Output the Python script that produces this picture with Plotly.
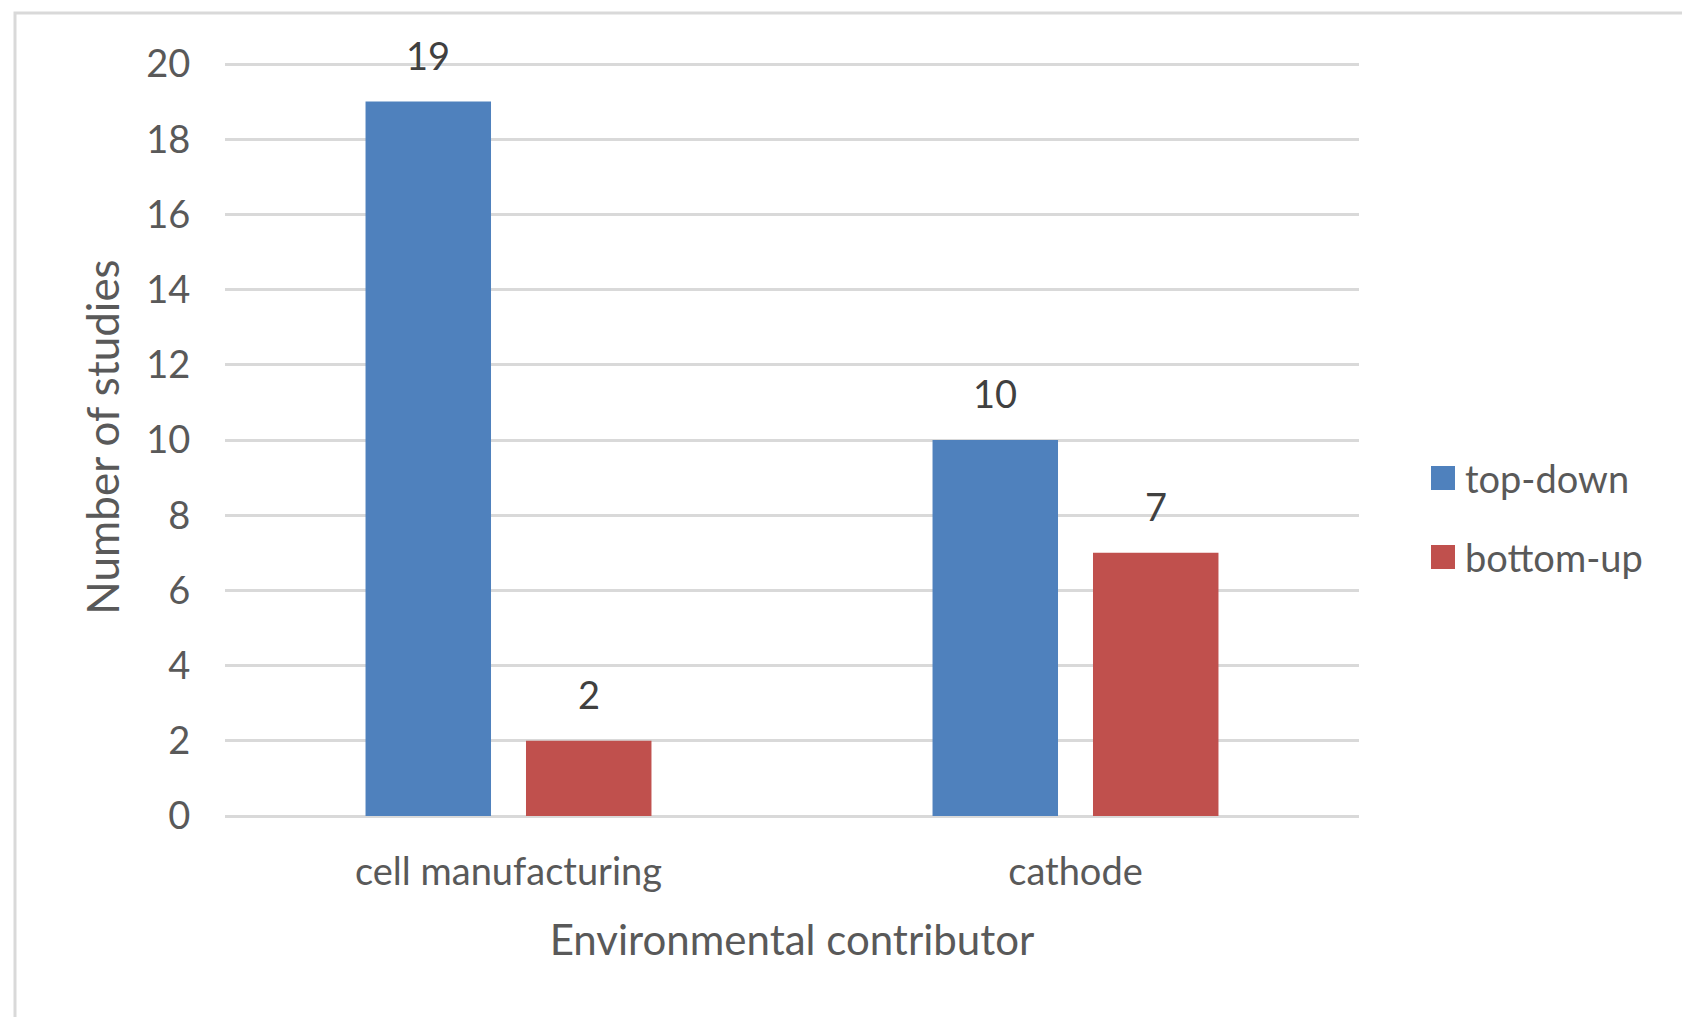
import plotly.graph_objects as go

# Data
categories = ["cell manufacturing", "cathode"]
series_names = ["top-down", "bottom-up"]
top_down = [19, 10]
bottom_up = [2, 7]
y_ticks = [0, 2, 4, 6, 8, 10, 12, 14, 16, 18, 20]

colors = ["#4F81BD", "#C0504D"]
series_values = [top_down, bottom_up]

W, H = 1682, 1017
M_L, M_R, M_T, M_B = 225, 323, 58, 201
BARGAP, GROUPGAP = 0.434, 0.218
FONT = "Lato"
TICK_COLOR = "#595959"
Y_MAX = 20.16  # a little headroom so the top gridline is drawn

fig = go.Figure()
for name, vals, col in zip(series_names, series_values, colors):
    fig.add_trace(go.Bar(
        x=categories, y=vals, name=name,
        marker=dict(color=col, line=dict(width=0)),
        showlegend=False,
    ))

# Value labels above each bar, offset to the bar's position within its group
plot_w = W - M_L - M_R
plot_h = H - M_T - M_B
cat_w = plot_w / len(categories)
slot = cat_w * (1 - BARGAP) / len(series_names)
for i, vals in enumerate(series_values):
    shift = (i - (len(series_names) - 1) / 2) * slot
    for cat, v in zip(categories, vals):
        fig.add_annotation(
            x=cat, y=v, xref="x", yref="y", text=str(v), showarrow=False,
            xshift=shift, yanchor="bottom", yshift=22,
            font=dict(family=FONT, size=38, color="#404040"),
        )

# Legend drawn as colored squares with labels to the right of the plot
sq = 24
leg_x0 = (1431 - M_L) / plot_w
leg_rows_px = [478, 557]
for name, col, ypx in zip(series_names, colors, leg_rows_px):
    yc = (H - M_B - ypx) / plot_h
    fig.add_shape(
        type="rect", xref="paper", yref="paper",
        x0=leg_x0, x1=leg_x0 + sq / plot_w,
        y0=yc - sq / 2 / plot_h, y1=yc + sq / 2 / plot_h,
        fillcolor=col, line=dict(width=0),
    )
    fig.add_annotation(
        xref="paper", yref="paper", x=leg_x0 + (sq + 8) / plot_w, y=yc,
        text=name, showarrow=False, xanchor="left", yanchor="middle",
        font=dict(family=FONT, size=38, color=TICK_COLOR),
    )

# Light outer frame
fig.add_shape(
    type="rect", xref="paper", yref="paper",
    x0=(15 - M_L) / plot_w, x1=1.5,
    y0=-0.5, y1=(H - M_B - 13) / plot_h,
    line=dict(color="#D9D9D9", width=3), fillcolor="rgba(0,0,0,0)", layer="below",
)

fig.update_layout(
    width=W, height=H,
    margin=dict(l=M_L, r=M_R, t=M_T, b=M_B, pad=0),
    paper_bgcolor="white", plot_bgcolor="white",
    barmode="group", bargap=BARGAP, bargroupgap=GROUPGAP,
    font=dict(family=FONT, color=TICK_COLOR),
)
fig.update_xaxes(
    showgrid=False, showline=False, zeroline=False,
    ticks="outside", ticklen=22, tickcolor="rgba(0,0,0,0)",
    tickfont=dict(family=FONT, size=38, color=TICK_COLOR),
    title=dict(text="Environmental contributor", standoff=34,
               font=dict(family=FONT, size=42, color=TICK_COLOR)),
)
fig.update_yaxes(
    range=[0, Y_MAX], tickvals=y_ticks,
    showgrid=True, gridcolor="#D9D9D9", gridwidth=2.5,
    zeroline=True, zerolinecolor="#D9D9D9", zerolinewidth=2.5,
    showline=False,
    ticks="outside", ticklen=26, tickcolor="rgba(0,0,0,0)",
    tickfont=dict(family=FONT, size=38, color=TICK_COLOR),
    title=dict(text="Number of studies", standoff=12,
               font=dict(family=FONT, size=44, color=TICK_COLOR)),
)

fig.write_html("out.html")
